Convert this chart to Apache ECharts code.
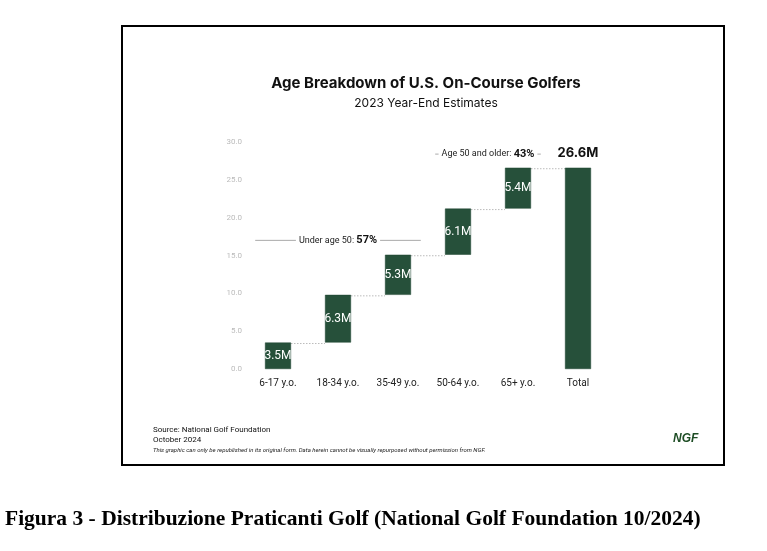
<!DOCTYPE html>
<html>
<head>
<meta charset="utf-8">
<script src="https://cdn.jsdelivr.net/npm/echarts@6/dist/echarts.min.js"></script>
<style>
  html, body { margin: 0; padding: 0; background: #fff; }
  #chart { width: 767px; height: 551px; }
</style>
</head>
<body>
<div id="chart"></div>
<script>
// data (millions of golfers)
var categories = ['6-17 y.o.', '18-34 y.o.', '35-49 y.o.', '50-64 y.o.', '65+ y.o.', 'Total'];
var groupValues = [3.5, 6.3, 5.3, 6.1, 5.4];
var totalValue = 26.6;
var yTicks = [0, 5, 10, 15, 20, 25, 30];

// bracket annotations above the bars
var annoText = ['Under age 50: ', 'Age 50 and older: '];
var annoPct = ['57%', '43%'];
var annoFrom = [0, 3];
var annoTo = [2, 4];
var annoLevel = [17.0, 28.4];

var GREEN = '#26503a';
var FONT = 'Roboto, "Liberation Sans", sans-serif';

// build waterfall helpers
var baseData = [], barData = [], cumul = [];
var run = 0;
groupValues.forEach(function (v) {
    baseData.push(run);
    barData.push(v);
    run = +(run + v).toFixed(1);
    cumul.push(run);
});
baseData.push(0);
barData.push(totalValue);

var measureCtx = document.createElement('canvas').getContext('2d');
function textWidth(str, font) {
    measureCtx.font = font;
    return measureCtx.measureText(str).width;
}

var chart = echarts.init(document.getElementById('chart'));

var option = {
    animation: false,
    backgroundColor: '#fff',
    title: {
        text: 'Age Breakdown of U.S. On-Course Golfers',
        subtext: '2023 Year-End Estimates',
        left: 421,
        textAlign: 'center',
        top: 71,
        itemGap: 6,
        textStyle: { fontFamily: 'Inter, sans-serif', fontWeight: 'bold', fontSize: 15, color: '#111' },
        subtextStyle: { fontFamily: 'Inter, sans-serif', fontSize: 12, color: '#111' }
    },
    grid: { left: 248, right: 159, top: 142, bottom: 182 },
    xAxis: {
        type: 'category',
        data: categories,
        axisLine: { show: false },
        axisTick: { show: false },
        axisLabel: { color: '#222', fontSize: 10, fontFamily: FONT, margin: 9 }
    },
    yAxis: {
        type: 'value',
        min: yTicks[0],
        max: yTicks[yTicks.length - 1],
        interval: 5,
        splitLine: { show: false },
        axisLine: { show: false },
        axisTick: { show: false },
        axisLabel: {
            color: '#bbb', fontSize: 8, fontFamily: FONT, margin: 6,
            formatter: function (v) { return v.toFixed(1); }
        }
    },
    series: [
        {
            type: 'bar',
            stack: 'w',
            data: baseData,
            barWidth: 26,
            itemStyle: { color: 'transparent' },
            silent: true
        },
        {
            type: 'bar',
            stack: 'w',
            barWidth: 26,
            data: barData.map(function (v, i) {
                var item = { value: v };
                if (i === barData.length - 1) {
                    item.label = {
                        show: true, position: 'top', distance: 8,
                        color: '#111', fontSize: 13, fontWeight: 'bold',
                        fontFamily: 'Inter, sans-serif',
                        formatter: function () { return totalValue.toFixed(1) + 'M'; }
                    };
                }
                return item;
            }),
            itemStyle: { color: GREEN, borderColor: '#1f4430', borderWidth: 0.5 },
            label: {
                show: true, position: 'inside', color: '#fff', fontSize: 12,
                fontFamily: FONT,
                formatter: function (p) { return p.value.toFixed(1) + 'M'; }
            }
        },
        {
            // dotted connectors between bars
            type: 'custom',
            silent: true,
            data: cumul.map(function (c, i) { return [i, c]; }),
            renderItem: function (params, api) {
                var i = api.value(0), c = api.value(1);
                var a = api.coord([i, c]), b = api.coord([i + 1, c]);
                return {
                    type: 'line',
                    shape: { x1: a[0] + 13, y1: a[1] + 1, x2: b[0] - 13, y2: a[1] + 1 },
                    style: { stroke: '#bbb', lineWidth: 1, lineDash: [1.5, 1.5] }
                };
            }
        },
        {
            // bracket annotations
            type: 'custom',
            silent: true,
            data: annoText.map(function (t, k) { return [annoFrom[k], annoTo[k], annoLevel[k], k]; }),
            renderItem: function (params, api) {
                var k = api.value(3);
                var p0 = api.coord([api.value(0), api.value(2)]);
                var p1 = api.coord([api.value(1), api.value(2)]);
                var band = api.size([1, 0])[0];
                var xs = p0[0] - 0.38 * band, xe = p1[0] + 0.38 * band, y = p0[1];
                var cx = (xs + xe) / 2;
                var w1 = textWidth(annoText[k], '9px ' + FONT);
                var w2 = textWidth(annoPct[k], 'bold 11px ' + FONT);
                var tw = w1 + w2;
                var tl = cx - tw / 2;
                return {
                    type: 'group',
                    children: [
                        { type: 'line', shape: { x1: xs, y1: y, x2: tl - 3, y2: y }, style: { stroke: '#aaa', lineWidth: 1 } },
                        { type: 'line', shape: { x1: tl + tw + 3, y1: y, x2: xe, y2: y }, style: { stroke: '#aaa', lineWidth: 1 } },
                        { type: 'text', x: tl, y: y, style: { text: annoText[k], font: '9px ' + FONT, fill: '#222', verticalAlign: 'middle', align: 'left' } },
                        { type: 'text', x: tl + w1, y: y, style: { text: annoPct[k], font: 'bold 11px ' + FONT, fill: '#111', verticalAlign: 'middle', align: 'left' } }
                    ]
                };
            }
        }
    ],
    graphic: [
        { type: 'rect', shape: { x: 122, y: 26, width: 602, height: 439 }, style: { fill: 'none', stroke: '#000', lineWidth: 2 }, z: -1 },
        { type: 'text', left: 153, top: 426, style: { text: 'Source: National Golf Foundation', font: '8px ' + FONT, fill: '#111' } },
        { type: 'text', left: 153, top: 436, style: { text: 'October 2024', font: '8px ' + FONT, fill: '#111' } },
        { type: 'text', left: 153, top: 447, style: { text: 'This graphic can only be republished in its original form. Data herein cannot be visually repurposed without permission from NGF.', font: 'italic 6px ' + FONT, fill: '#222' } },
        { type: 'text', left: 673, top: 433, style: { text: 'NGF', font: 'italic bold 12px "Liberation Sans", sans-serif', fill: '#1e4d25' } },
        { type: 'text', left: 5, top: 508, style: { text: 'Figura 3 - Distribuzione Praticanti Golf (National Golf Foundation 10/2024)', font: 'bold 21.5px "Liberation Serif", "DejaVu Serif", serif', fill: '#000' } }
    ]
};

chart.setOption(option);
</script>
</body>
</html>
